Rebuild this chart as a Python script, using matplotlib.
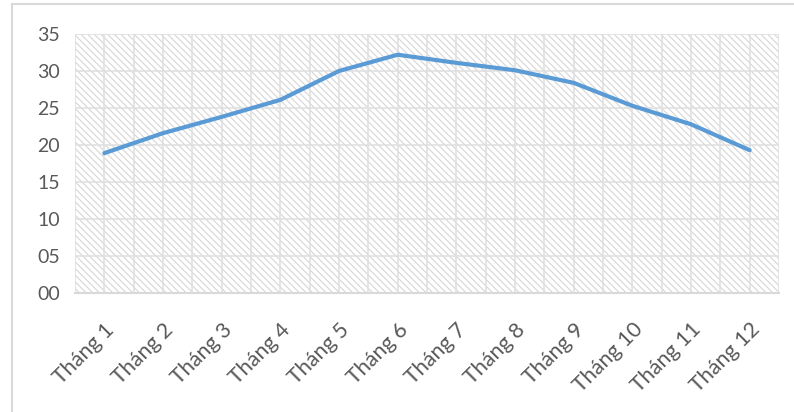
import matplotlib
matplotlib.use("Agg")
import matplotlib.pyplot as plt
from matplotlib.patches import Rectangle
from matplotlib.lines import Line2D
from matplotlib.transforms import ScaledTranslation
import numpy as np

months = ["Tháng 1", "Tháng 2", "Tháng 3", "Tháng 4", "Tháng 5", "Tháng 6",
          "Tháng 7", "Tháng 8", "Tháng 9", "Tháng 10", "Tháng 11", "Tháng 12"]
temps = [18.9, 21.6, 23.8, 26.1, 30.0, 32.2, 31.1, 30.1, 28.4, 25.3, 22.8, 19.3]
y_ticks = [0, 5, 10, 15, 20, 25, 30, 35]
y_labels = ["00", "05", "10", "15", "20", "25", "30", "35"]

plt.rcParams['font.family'] = ['Lato', 'DejaVu Sans']
plt.rcParams['hatch.linewidth'] = 0.8
plt.rcParams['hatch.color'] = '#d6d6d6'

W, H = 794, 412
fig = plt.figure(figsize=(W / 100, H / 100), dpi=100)

# chart frame (left and top edges visible)
frame_kw = dict(transform=fig.transFigure, color='#d9d9d9', linewidth=1.5)
fig.add_artist(Line2D([12 / W, 12 / W], [0, 1 - 4 / H], **frame_kw))
fig.add_artist(Line2D([12 / W, 1], [1 - 4 / H, 1 - 4 / H], **frame_kw))

ax = fig.add_axes([75 / W, (H - 293) / H, 704 / W, 259 / H])
x = np.arange(len(months))

# hatched plot background
ax.add_patch(Rectangle((0, 0), 1, 1, transform=ax.transAxes, facecolor='white',
                       edgecolor='#d6d6d6', hatch='\\\\\\\\\\', linewidth=0, zorder=0))

ax.plot(x, temps, color='#5b9bd5', linewidth=3, solid_capstyle='round',
        solid_joinstyle='round', zorder=3)

ax.set_xlim(-0.5, len(months) - 0.5)
ax.set_ylim(0, 35)
ax.set_yticks(y_ticks)
ax.set_yticklabels(y_labels)
ax.set_xticks(x)
ax.set_xticks(np.arange(-0.5, len(months), 1.0), minor=True)
ax.set_xticklabels(months, rotation=45, ha='right', va='top', rotation_mode='anchor')

shift = ScaledTranslation(9 / 100, 0, fig.dpi_scale_trans)
for lbl in ax.get_xticklabels():
    lbl.set_transform(lbl.get_transform() + shift)

ax.grid(True, which='major', color='#e0e0e0', linewidth=1.2, zorder=1)
ax.grid(True, which='minor', axis='x', color='#e0e0e0', linewidth=1.2, zorder=1)
ax.set_axisbelow(True)

for s in ['top', 'right', 'left']:
    ax.spines[s].set_visible(False)
ax.spines['bottom'].set_color('#d9d9d9')
ax.spines['bottom'].set_linewidth(1.5)

ax.tick_params(axis='both', which='both', length=0, colors='#595959')
ax.tick_params(axis='y', labelsize=14, pad=11)
ax.tick_params(axis='x', labelsize=15.5, pad=19)

fig.savefig("out.png", dpi=100)
